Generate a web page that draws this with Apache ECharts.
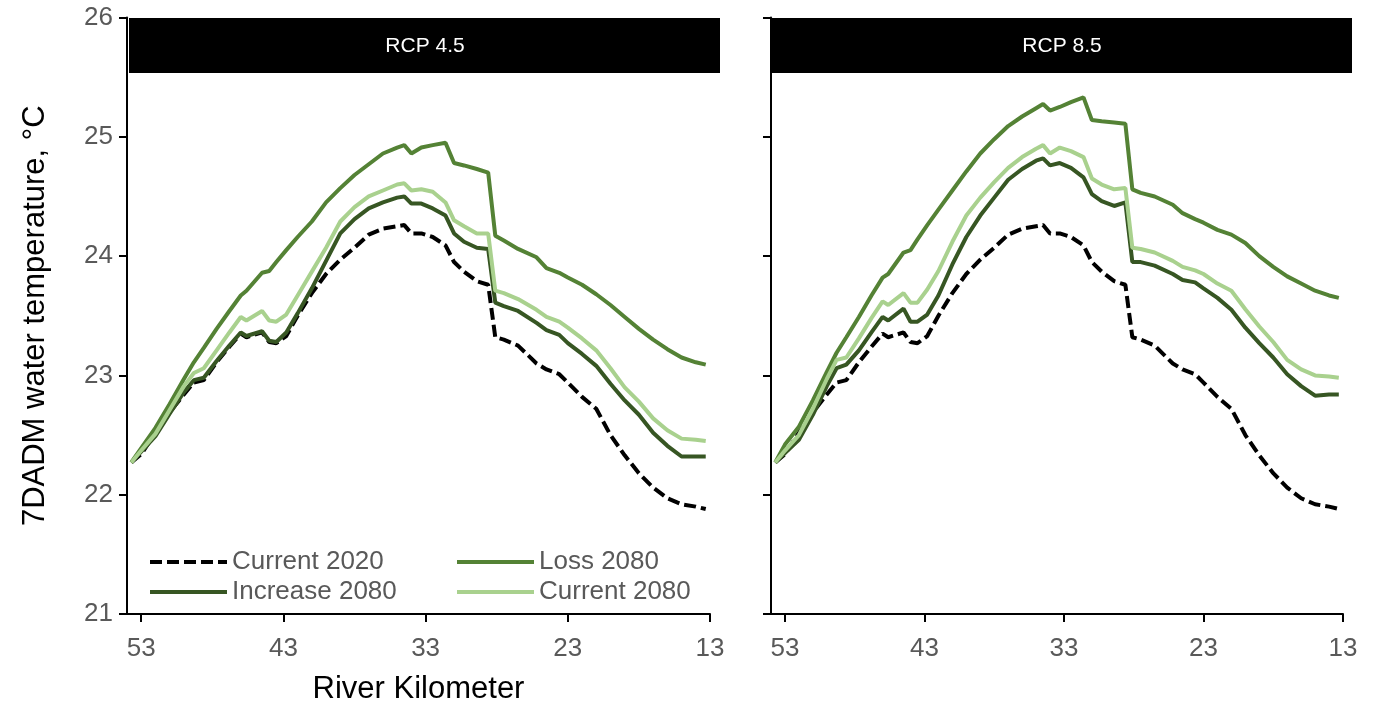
<!DOCTYPE html>
<html>
<head>
<meta charset="utf-8">
<script src="https://cdn.jsdelivr.net/npm/echarts@6/dist/echarts.min.js"></script>
<style>
  html, body { margin: 0; padding: 0; background: #fff; }
  #chart { width: 1377px; height: 710px; }
</style>
</head>
<body>
<div id="chart"></div>
<script>
// River kilometre positions shared by every series
const km = [53.7, 53, 52, 51, 50, 49.3, 48.6, 47.7, 46.8, 46.0, 45.6, 44.5, 44.0, 43.5, 42.8, 42, 41, 40, 39, 38,
  37, 36, 35, 34.5, 34.0, 33.3, 32.5, 31.6, 31.0, 30.3, 29.4, 28.6, 28.1, 27.5, 26.5, 25.2, 24.5, 23.6, 23.0, 22,
  21, 20, 19, 18, 17, 16, 15, 14, 13.3];

// baseline, same in both panels
const current2020 = [22.27, 22.34, 22.52, 22.69, 22.84, 22.94, 22.96, 23.11, 23.24, 23.35, 23.32, 23.36, 23.28, 23.27, 23.33, 23.50, 23.69, 23.85, 23.97, 24.07,
  24.18, 24.23, 24.25, 24.26, 24.19, 24.19, 24.16, 24.09, 23.95, 23.87, 23.79, 23.76, 23.32, 23.30, 23.25, 23.10, 23.05, 23.01, 22.94, 22.82,
  22.72, 22.50, 22.33, 22.18, 22.06, 21.97, 21.92, 21.90, 21.88];

// RCP 4.5
const loss45 = [22.27, 22.39, 22.56, 22.76, 22.97, 23.11, 23.23, 23.39, 23.54, 23.67, 23.71, 23.86, 23.875, 23.95, 24.05, 24.16, 24.29, 24.45, 24.57, 24.68,
  24.77, 24.86, 24.91, 24.93, 24.86, 24.91, 24.93, 24.95, 24.78, 24.76, 24.73, 24.70, 24.17, 24.13, 24.06, 23.99, 23.90, 23.86, 23.82, 23.76,
  23.68, 23.59, 23.49, 23.39, 23.30, 23.22, 23.15, 23.11, 23.09];
const increase45 = [22.27, 22.36, 22.49, 22.68, 22.86, 22.96, 22.98, 23.12, 23.25, 23.36, 23.33, 23.37, 23.29, 23.28, 23.36, 23.52, 23.73, 23.96, 24.19, 24.31,
  24.40, 24.45, 24.49, 24.50, 24.44, 24.44, 24.40, 24.34, 24.19, 24.12, 24.07, 24.06, 23.61, 23.58, 23.54, 23.44, 23.38, 23.34, 23.27, 23.18,
  23.08, 22.93, 22.79, 22.67, 22.52, 22.41, 22.32, 22.32, 22.32];
const current45 = [22.27, 22.37, 22.51, 22.71, 22.91, 23.02, 23.06, 23.21, 23.36, 23.49, 23.46, 23.54, 23.46, 23.45, 23.51, 23.67, 23.87, 24.07, 24.29, 24.41,
  24.50, 24.55, 24.60, 24.61, 24.55, 24.56, 24.54, 24.45, 24.30, 24.25, 24.19, 24.19, 23.71, 23.69, 23.64, 23.55, 23.49, 23.45, 23.40, 23.31,
  23.21, 23.06, 22.90, 22.78, 22.64, 22.54, 22.47, 22.46, 22.45];

// RCP 8.5
const loss85 = [22.27, 22.42, 22.57, 22.79, 23.03, 23.19, 23.32, 23.49, 23.67, 23.82, 23.85, 24.03, 24.05, 24.14, 24.26, 24.39, 24.55, 24.71, 24.86, 24.98,
  25.09, 25.17, 25.24, 25.275, 25.22, 25.25, 25.29, 25.33, 25.14, 25.13, 25.12, 25.11, 24.56, 24.53, 24.50, 24.43, 24.36, 24.31, 24.28, 24.22,
  24.18, 24.11, 24.00, 23.91, 23.83, 23.77, 23.71, 23.67, 23.65];
const increase85 = [22.27, 22.35, 22.46, 22.67, 22.91, 23.06, 23.09, 23.21, 23.36, 23.49, 23.46, 23.56, 23.45, 23.45, 23.51, 23.67, 23.93, 24.16, 24.34, 24.49,
  24.64, 24.73, 24.80, 24.82, 24.76, 24.78, 24.74, 24.66, 24.52, 24.46, 24.42, 24.45, 23.95, 23.95, 23.92, 23.85, 23.80, 23.78, 23.73, 23.65,
  23.55, 23.40, 23.27, 23.15, 23.01, 22.91, 22.83, 22.84, 22.84];
const current85 = [22.27, 22.37, 22.50, 22.72, 22.97, 23.13, 23.15, 23.31, 23.48, 23.62, 23.59, 23.69, 23.61, 23.61, 23.72, 23.875, 24.12, 24.34, 24.49, 24.62,
  24.74, 24.83, 24.90, 24.93, 24.86, 24.91, 24.88, 24.83, 24.65, 24.60, 24.56, 24.57, 24.07, 24.06, 24.03, 23.96, 23.91, 23.88, 23.85, 23.77,
  23.71, 23.555, 23.41, 23.28, 23.13, 23.05, 23.00, 22.99, 22.98];

const kmTicks = [53, 43, 33, 23, 13];
const panels = ['RCP 4.5', 'RCP 8.5'];

const FONT = '"Liberation Sans", Arial, sans-serif';
const GREY = '#595959';

const pair = (ys) => km.map((k, i) => [k, ys[i]]);

function lineSeries(name, ys, idx, color, dashed) {
  return {
    name,
    type: 'line',
    xAxisIndex: idx,
    yAxisIndex: idx,
    data: pair(ys),
    symbol: 'none',
    lineStyle: {
      color,
      width: 4,
      type: dashed ? [12, 5] : 'solid',
      cap: 'butt',
    },
    itemStyle: { color },
    z: 2,
  };
}

function xAxis(idx) {
  return {
    type: 'value',
    gridIndex: idx,
    inverse: true,
    min: 13,
    max: 54,
    splitLine: { show: false },
    axisLine: { lineStyle: { color: '#000', width: 2 } },
    axisTick: { customValues: kmTicks, length: 8, lineStyle: { color: '#000', width: 2 } },
    axisLabel: { customValues: kmTicks, margin: 22, fontSize: 26, color: GREY, fontFamily: FONT },
    name: idx === 0 ? 'River Kilometer' : '',
    nameLocation: 'middle',
    nameGap: 60,
    nameTextStyle: { fontSize: 31, color: '#000', fontFamily: FONT },
  };
}

function yAxis(idx) {
  return {
    type: 'value',
    gridIndex: idx,
    min: 21,
    max: 26,
    interval: 1,
    splitLine: { show: false },
    axisLine: { show: true, lineStyle: { color: '#000', width: 2 } },
    axisTick: { show: true, length: 8, lineStyle: { color: '#000', width: 2 } },
    axisLabel: { show: idx === 0, margin: 14, fontSize: 26, color: GREY, fontFamily: FONT },
    name: idx === 0 ? '7DADM water temperature, °C' : '',
    nameLocation: 'middle',
    nameGap: 76,
    nameTextStyle: { fontSize: 31, color: '#000', fontFamily: FONT },
  };
}

const legendBase = {
  orient: 'vertical', top: 549, padding: 0,
  itemWidth: 77, itemHeight: 14, itemGap: 4,
  itemStyle: { opacity: 0 },
  lineStyle: { width: 4 },
  textStyle: { fontSize: 26, color: GREY, fontFamily: FONT, lineHeight: 26 },
};

const chart = echarts.init(document.getElementById('chart'));
chart.setOption({
  animation: false,
  grid: [
    { left: 127, top: 17.5, width: 583, height: 596.5 },
    { left: 771, top: 17.5, width: 572, height: 596.5 },
  ],
  xAxis: [xAxis(0), xAxis(1)],
  yAxis: [yAxis(0), yAxis(1)],
  legend: [
    Object.assign({ data: ['Current 2020', 'Increase 2080'], left: 148 }, legendBase),
    Object.assign({ data: ['Loss 2080', 'Current 2080'], left: 455 }, legendBase),
  ],
  graphic: [
    { type: 'rect', shape: { x: 129, y: 18, width: 591, height: 55 }, style: { fill: '#000' } },
    { type: 'text', x: 425, y: 46, style: { text: panels[0], fill: '#fff', fontSize: 21, fontFamily: FONT, align: 'center', verticalAlign: 'middle' } },
    { type: 'rect', shape: { x: 772, y: 18, width: 580, height: 55 }, style: { fill: '#000' } },
    { type: 'text', x: 1062, y: 46, style: { text: panels[1], fill: '#fff', fontSize: 21, fontFamily: FONT, align: 'center', verticalAlign: 'middle' } },
  ],
  series: [
    lineSeries('Current 2020', current2020, 0, '#000000', true),
    lineSeries('Loss 2080', loss45, 0, '#548235'),
    lineSeries('Increase 2080', increase45, 0, '#375623'),
    lineSeries('Current 2080', current45, 0, '#a9d18e'),
    lineSeries('Current 2020', current2020, 1, '#000000', true),
    lineSeries('Loss 2080', loss85, 1, '#548235'),
    lineSeries('Increase 2080', increase85, 1, '#375623'),
    lineSeries('Current 2080', current85, 1, '#a9d18e'),
  ],
});
</script>
</body>
</html>
